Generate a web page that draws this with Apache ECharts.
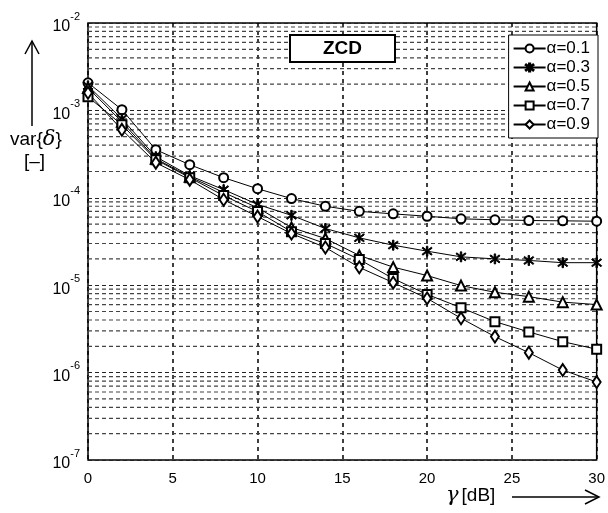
<!DOCTYPE html>
<html>
<head>
<meta charset="utf-8">
<script src="https://cdn.jsdelivr.net/npm/echarts@6/dist/echarts.min.js"></script>
<style>
html,body{margin:0;padding:0;background:#fff;}
#main{width:608px;height:513px;}
</style>
</head>
<body>
<div id="main"></div>
<script>
// gamma [dB]
var gammaDb = [0, 2, 4, 6, 8, 10, 12, 14, 16, 18, 20, 22, 24, 26, 28, 30];
var alpha01 = [2.07e-3, 1.02e-3, 3.55e-4, 2.39e-4, 1.70e-4, 1.27e-4, 9.8e-5, 8.0e-5, 7.0e-5, 6.55e-5, 6.15e-5, 5.75e-5, 5.6e-5, 5.5e-5, 5.45e-5, 5.4e-5];
var alpha03 = [1.91e-3, 8.0e-4, 2.95e-4, 1.79e-4, 1.24e-4, 8.4e-5, 6.3e-5, 4.45e-5, 3.48e-5, 2.87e-5, 2.45e-5, 2.11e-5, 2.0e-5, 1.92e-5, 1.81e-5, 1.81e-5];
var alpha05 = [1.81e-3, 7.4e-4, 2.8e-4, 1.74e-4, 1.15e-4, 7.7e-5, 4.57e-5, 3.42e-5, 2.19e-5, 1.61e-5, 1.29e-5, 9.9e-6, 8.3e-6, 7.4e-6, 6.4e-6, 6.0e-6];
var alpha07 = [1.43e-3, 6.85e-4, 2.73e-4, 1.70e-4, 1.06e-4, 6.95e-5, 4.1e-5, 3.0e-5, 1.97e-5, 1.19e-5, 7.85e-6, 5.53e-6, 3.83e-6, 2.92e-6, 2.26e-6, 1.85e-6];
var alpha09 = [1.59e-3, 6.0e-4, 2.52e-4, 1.61e-4, 9.5e-5, 6.1e-5, 3.9e-5, 2.7e-5, 1.6e-5, 1.07e-5, 7.07e-6, 4.18e-6, 2.58e-6, 1.69e-6, 1.07e-6, 7.8e-7];
var seriesNames = ['\u03b1=0.1', '\u03b1=0.3', '\u03b1=0.5', '\u03b1=0.7', '\u03b1=0.9'];
var xTicks = [0, 5, 10, 15, 20, 25, 30];
var yDecades = [-7, -6, -5, -4, -3, -2];
var minorMult = [2, 3, 4, 5, 6, 7, 8, 9];

var asterisk = 'path://M-0.8,-6L0.8,-6L0.8,6L-0.8,6Z M-5.6,-3.6L-4.8,-4.8L5.6,3.6L4.8,4.8Z M-5.6,3.6L-4.8,4.8L5.6,-3.6L4.8,-4.8Z';

function pairs(arr) {
  return gammaDb.map(function (g, i) { return [g, arr[i]]; });
}

function mk(name, arr, symbol, size) {
  return {
    name: name,
    type: 'line',
    data: pairs(arr),
    symbol: symbol,
    symbolSize: size,
    showAllSymbol: true,
    z: 3,
    lineStyle: {color: '#000', width: 1},
    itemStyle: {color: '#000', borderColor: '#000', borderWidth: 1}
  };
}

// minor log grid lines (2..9 in every decade), drawn as plain dashed lines across the x range
var gridSeries = [];
for (var d = 0; d < yDecades.length - 1; d++) {
  for (var m = 0; m < minorMult.length; m++) {
    var v = minorMult[m] * Math.pow(10, yDecades[d]);
    gridSeries.push({
      name: 'minor', type: 'line', silent: true, z: 1, symbol: 'none',
      data: [[xTicks[0], v], [xTicks[xTicks.length - 1], v]],
      lineStyle: {color: '#444', type: [4, 3], width: 1.2}
    });
  }
}

var chart = echarts.init(document.getElementById('main'));
var font = 'Liberation Sans, Arial, sans-serif';

var option = {
  backgroundColor: '#fff',
  animation: false,
  textStyle: {fontFamily: font},
  title: {
    text: 'ZCD',
    left: 290,
    top: 35,
    padding: [4, 33, 4, 33],
    backgroundColor: '#fff',
    borderColor: '#000',
    borderWidth: 2,
    textStyle: {fontSize: 19, fontWeight: 'bold', color: '#000', fontFamily: font}
  },
  legend: {
    orient: 'vertical',
    right: 10,
    top: 35,
    data: seriesNames,
    backgroundColor: '#fff',
    borderColor: '#000',
    borderWidth: 1,
    padding: [5, 8, 5, 4],
    itemGap: 2,
    itemWidth: 32,
    itemHeight: 10,
    textStyle: {fontSize: 17, color: '#000', fontFamily: font, padding: [0, 0, 0, -4]}
  },
  grid: {
    left: 88, right: 8, top: 23, bottom: 53,
    show: true, borderColor: '#000', borderWidth: 1.5, backgroundColor: 'transparent'
  },
  xAxis: {
    type: 'value',
    min: 0, max: 30, interval: 5,
    axisLine: {show: false},
    axisTick: {show: false},
    axisLabel: {fontSize: 15, color: '#000', margin: 11, fontFamily: font},
    splitLine: {show: true, lineStyle: {color: '#000', type: [4, 4], width: 1.5}}
  },
  yAxis: {
    type: 'log',
    logBase: 10,
    min: 1e-7, max: 1e-2,
    axisLine: {show: false},
    axisTick: {show: false},
    axisLabel: {
      margin: 8,
      color: '#000',
      formatter: function (v) {
        var e = Math.round(Math.log10(v));
        return '{b|10}{s|' + e + '}';
      },
      rich: {
        b: {fontSize: 16, color: '#000', fontFamily: font, verticalAlign: 'bottom', padding: [8, 0, 0, 0]},
        s: {fontSize: 11, color: '#000', fontFamily: font, verticalAlign: 'top', padding: [0, 0, 10, 0]}
      }
    },
    splitLine: {show: true, lineStyle: {color: '#222', type: [4, 3], width: 1.2}}
  },
  series: gridSeries.concat([
    mk(seriesNames[0], alpha01, 'emptyCircle', 9),
    mk(seriesNames[1], alpha03, asterisk, 10),
    mk(seriesNames[2], alpha05, 'emptyTriangle', 10),
    mk(seriesNames[3], alpha07, 'emptyRect', 9),
    mk(seriesNames[4], alpha09, 'emptyDiamond', [8, 12])
  ]),
  graphic: [
    {type: 'line', shape: {x1: 32, y1: 126, x2: 32, y2: 42}, style: {stroke: '#000', lineWidth: 1.5}},
    {type: 'polyline', shape: {points: [[25, 54], [32, 41], [39, 54]]}, style: {stroke: '#000', lineWidth: 1.5, fill: null}},
    {type: 'text', left: 10, top: 129, style: {text: 'var{{d|\u03b4}}', fontSize: 19, fill: '#000', fontFamily: font,
      rich: {d: {fontSize: 21, fontStyle: 'italic', fontFamily: 'DejaVu Serif, serif', fill: '#000'}}}},
    {type: 'text', left: 24, top: 152, style: {text: '[\u2013]', fontSize: 19, fill: '#000', fontFamily: font}},
    {type: 'text', left: 446, top: 485, style: {text: '{g|\u03b3}[dB]', fontSize: 19, fill: '#000', fontFamily: font,
      rich: {g: {fontSize: 21, fontStyle: 'italic', fontFamily: 'DejaVu Serif, serif', fill: '#000', padding: [0, 3, 0, 0]}}}},
    {type: 'line', shape: {x1: 512, y1: 497, x2: 598, y2: 497}, style: {stroke: '#000', lineWidth: 1.5}},
    {type: 'polyline', shape: {points: [[585, 490], [599, 497], [585, 504]]}, style: {stroke: '#000', lineWidth: 1.5, fill: null}}
  ]
};

chart.setOption(option);
</script>
</body>
</html>
